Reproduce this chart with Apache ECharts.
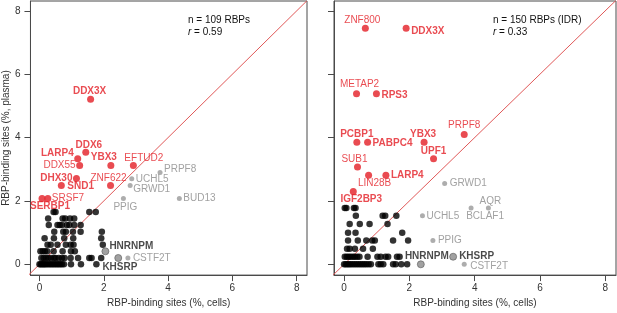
<!DOCTYPE html>
<html>
<head>
<meta charset="utf-8">
<script src="https://cdn.jsdelivr.net/npm/echarts@6/dist/echarts.min.js"></script>
<style>
  html, body { margin: 0; padding: 0; background: #fff; }
  #chart { width: 617px; height: 313px; }
</style>
</head>
<body>
<div id="chart"></div>
<script>
// 坐标轴刻度 / 标题
const tickValues = [0, 2, 4, 6, 8]
const xAxisTitle = 'RBP-binding sites (%, cells)'
const yAxisTitle = 'RBP-binding sites (%, plasma)'
const panelCounts = [109, 150]
const panelCountNote = ['', ' (IDR)']
const panelR = [0.59, 0.33]

// 左图 [name, cells, plasma]
const leftRed = [
  ['DDX3X', 1.59, 5.21], ['DDX6', 1.44, 3.54], ['LARP4', 1.19, 3.33],
  ['YBX3', 2.22, 3.12], ['DDX55', 1.25, 3.12], ['EFTUD2', 2.92, 3.12],
  ['DHX30', 1.15, 2.71], ['SND1', 0.68, 2.49], ['ZNF622', 2.21, 2.49],
  ['SRSF7', 0.26, 2.08], ['SERBP1', 0.08, 2.08]
]
const leftGray = [
  ['PRPF8', 3.75, 2.9], ['UCHL5', 2.87, 2.7], ['GRWD1', 2.82, 2.49],
  ['BUD13', 4.35, 2.08], ['PPIG', 2.61, 2.08], ['CSTF2T', 2.75, 0.2]
]
const leftDarkGray = [['HNRNPM', 2.05, 0.41], ['', 2.45, 0.2]]
const leftBlackNamed = [['KHSRP', 1.77, 0]]
const leftBlackRows = [
  [1.65, [0.44, 0.5, 1.55, 1.75]],
  [1.45, [0.27, 0.72, 0.8, 0.95, 1.08]],
  [1.24, [0.29, 0.56, 0.63, 0.7, 0.85, 0.93, 1.08, 1.28]],
  [1.03, [0.46, 0.74, 0.82, 1.04, 1.28, 1.94]],
  [0.82, [0.16, 0.45, 0.77, 1.05, 1.92]],
  [0.62, [0.25, 0.35, 0.56, 0.82, 0.97, 1.06, 1.97]],
  [0.41, [0.03, 0.1, 0.17, 0.24, 0.44, 0.72, 0.98, 1.1]],
  [0.2, [0.06, 0.13, 0.2, 0.27, 0.35, 0.45, 0.5, 0.6, 0.7, 0.78, 0.97, 1.2, 1.55, 1.62, 1.92]],
  [0, [0, 0.04, 0.08, 0.12, 0.16, 0.2, 0.25, 0.3, 0.35, 0.4, 0.45, 0.5, 0.55, 0.6, 0.65, 0.7, 0.76, 0.98, 1.29]]
]

// 右图 (IDR)
const rightRed = [
  ['ZNF800', 0.65, 7.45], ['DDX3X', 1.9, 7.45], ['METAP2', 0.38, 5.38],
  ['RPS3', 0.99, 5.38], ['PRPF8', 3.68, 4.1], ['PCBP1', 0.39, 3.85],
  ['PABPC4', 0.72, 3.85], ['YBX3', 2.45, 3.85], ['UPF1', 2.74, 3.33],
  ['SUB1', 0.41, 3.07], ['LIN28B', 0.75, 2.81], ['LARP4', 1.28, 2.81],
  ['IGF2BP3', 0.28, 2.3]
]
const rightGray = [
  ['GRWD1', 3.08, 2.55], ['AQR', 4.42, 1.78], ['BCLAF1', 3.89, 1.78],
  ['UCHL5', 2.4, 1.53], ['PPIG', 2.72, 0.75], ['CSTF2T', 3.68, 0]
]
const rightDarkGray = [['HNRNPM', 2.35, 0], ['KHSRP', 3.34, 0.24]]
const rightBlackNamed = []
const rightBlackRows = [
  [1.78, [0.02, 0.07, 0.3, 0.35]],
  [1.53, [0.36, 1.18, 1.26, 1.6]],
  [1.27, [0.17, 0.48, 0.78, 1.33]],
  [1.0, [0.12, 0.35, 1.78]],
  [0.75, [0.12, 0.42, 0.68, 0.86, 0.94, 1.5, 1.96]],
  [0.49, [0.09, 0.17, 0.33, 0.58, 0.88]],
  [0.24, [0.02, 0.08, 0.14, 0.2, 0.27, 0.33, 0.4, 0.47, 0.72, 1.02, 1.12, 1.27, 1.35, 1.62, 1.7]],
  [0, [0, 0.05, 0.1, 0.15, 0.2, 0.26, 0.32, 0.38, 0.44, 0.5, 0.56, 0.62, 0.68, 0.75, 0.82, 1.05, 1.12, 1.2, 1.5, 1.58, 1.75, 1.93]]
]

// 标签摆放 [align, dx, dy]（相对点中心，像素）
const labelSpots = {
  left: {
    DDX3X: ['center', -1, -8], DDX6: ['center', 3, -7], LARP4: ['right', -4, -6],
    YBX3: ['center', -7, -8], DDX55: ['right', -4, 0], EFTUD2: ['left', -9, -7],
    DHX30: ['right', -4, 0], SND1: ['left', 6, 1], ZNF622: ['center', -2, -7],
    SRSF7: ['left', 4, 0], SERBP1: ['center', 8, 8],
    PRPF8: ['left', 4, -3], UCHL5: ['left', 4, 0], GRWD1: ['left', 3, 4],
    BUD13: ['left', 4, 0], PPIG: ['center', 2, 9], CSTF2T: ['left', 5, 0],
    HNRNPM: ['left', 4, -5], KHSRP: ['left', 6, 3]
  },
  right: {
    ZNF800: ['center', -3, -8], DDX3X: ['left', 5, 3], METAP2: ['center', 3, -10],
    RPS3: ['left', 5, 1], PRPF8: ['center', 0, -9], PCBP1: ['center', 0, -8],
    PABPC4: ['left', 5, 1], YBX3: ['center', -1, -8], UPF1: ['center', 0, -8],
    SUB1: ['center', -3, -8], LIN28B: ['center', 6, 8], LARP4: ['left', 5, 0],
    IGF2BP3: ['center', 8, 8], GRWD1: ['left', 5, 0], AQR: ['center', 2, -7],
    BCLAF1: ['center', 14, 8], UCHL5: ['left', 4, 0], PPIG: ['left', 5, 0],
    HNRNPM: ['center', 6, -8], KHSRP: ['left', 6, 0], CSTF2T: ['left', 6, 2]
  }
}
const boldNames = {
  left: ['DDX3X', 'DDX6', 'LARP4', 'YBX3', 'DHX30', 'SND1', 'SERBP1', 'HNRNPM', 'KHSRP'],
  right: ['DDX3X', 'RPS3', 'PCBP1', 'PABPC4', 'YBX3', 'UPF1', 'LARP4', 'IGF2BP3', 'HNRNPM', 'KHSRP']
}

const RED = '#e41e26'
const GRAY_TXT = '#8a8a8a'
const FONT = '"Liberation Sans", Arial, sans-serif'

const grids = [
  { left: 26, top: 1, width: 281, height: 281, xMin: -0.28, xMax: 8.32 },
  { left: 334, top: 1, width: 282, height: 281, xMin: -0.31, xMax: 8.33 }
]
const Y_MIN = -0.34
const Y_MAX = 8.31

function points(list, side, txtColor) {
  return list.map(([name, x, y]) => {
    const spot = labelSpots[side][name]
    const item = { name, value: [x, y] }
    if (spot) {
      item.label = {
        show: true,
        position: 'inside',
        align: spot[0],
        verticalAlign: 'middle',
        offset: [spot[1], spot[2]],
        formatter: name,
        color: txtColor,
        fontFamily: FONT,
        fontSize: 10,
        fontWeight: boldNames[side].includes(name) ? 'bold' : 'normal'
      }
    }
    return item
  })
}

function rowsToPoints(rows) {
  return rows.flatMap(([y, xs]) => xs.map(x => [x, y]))
}

function panelSeries(i, side, rows, blackNamed, gray, darkGray, red) {
  const g = grids[i]
  const lo = Math.min(g.xMin, Y_MIN)
  const hi = Math.max(g.xMax, Y_MAX)
  return [
    {
      type: 'line', xAxisIndex: i, yAxisIndex: i, z: 1,
      symbol: 'none', silent: true,
      lineStyle: { color: '#e05858', width: 1 },
      data: [[lo, lo], [hi, hi]]
    },
    {
      type: 'scatter', xAxisIndex: i, yAxisIndex: i, z: 2,
      symbolSize: 6.5, itemStyle: { color: '#000' },
      data: rowsToPoints(rows)
    },
    {
      type: 'scatter', xAxisIndex: i, yAxisIndex: i, z: 3,
      symbolSize: 6.5, itemStyle: { color: '#000' },
      data: points(blackNamed, side, '#1a1a1a')
    },
    {
      type: 'scatter', xAxisIndex: i, yAxisIndex: i, z: 3,
      symbolSize: 5, itemStyle: { color: '#999' },
      data: points(gray, side, GRAY_TXT)
    },
    {
      type: 'scatter', xAxisIndex: i, yAxisIndex: i, z: 3,
      symbolSize: 7, itemStyle: { color: '#8a8a8a', borderColor: '#5c5c5c', borderWidth: 0.8 },
      data: points(darkGray, side, '#1a1a1a')
    },
    {
      type: 'scatter', xAxisIndex: i, yAxisIndex: i, z: 4,
      symbolSize: 7, itemStyle: { color: RED },
      data: points(red, side, RED)
    }
  ]
}

const axisCommon = {
  type: 'value',
  splitLine: { show: false },
  axisLine: { onZero: false, lineStyle: { color: '#4a4a4a', width: 1 } },
  axisTick: { length: 6, lineStyle: { color: '#4a4a4a' }, customValues: tickValues },
  axisLabel: { customValues: tickValues, color: '#333', fontSize: 10, fontFamily: FONT }
}

const option = {
  animation: false,
  backgroundColor: '#fff',
  grid: grids.map(g => ({
    left: g.left, top: g.top, width: g.width, height: g.height,
    show: true, borderColor: '#4a4a4a', borderWidth: 1, containLabel: false
  })),
  xAxis: grids.map((g, i) => ({
    ...axisCommon,
    gridIndex: i,
    min: g.xMin, max: g.xMax,
    axisLabel: { ...axisCommon.axisLabel, margin: 8 },
    name: xAxisTitle,
    nameLocation: 'middle',
    nameGap: 16,
    nameTextStyle: { color: '#333', fontSize: 10, fontFamily: FONT }
  })),
  yAxis: grids.map((g, i) => ({
    ...axisCommon,
    gridIndex: i,
    min: Y_MIN, max: Y_MAX,
    axisLabel: { ...axisCommon.axisLabel, margin: 10, show: i === 0 },
    name: i === 0 ? yAxisTitle : '',
    nameLocation: 'middle',
    nameGap: 14,
    nameTextStyle: { color: '#333', fontSize: 10, fontFamily: FONT }
  })),
  graphic: grids.flatMap((g, i) => [
    {
      type: 'text', left: [188, 493][i], top: 15,
      style: { text: 'n = ' + panelCounts[i] + ' RBPs' + panelCountNote[i], fill: '#111', font: '10px ' + FONT }
    },
    {
      type: 'text', left: [188, 493][i], top: 27,
      style: {
        text: '{i|r} = ' + panelR[i].toFixed(2), fill: '#111', font: '10px ' + FONT,
        rich: { i: { fontStyle: 'italic', fontSize: 10, fontFamily: FONT, fill: '#111' } }
      }
    }
  ]),
  series: [
    ...panelSeries(0, 'left', leftBlackRows, leftBlackNamed, leftGray, leftDarkGray, leftRed),
    ...panelSeries(1, 'right', rightBlackRows, rightBlackNamed, rightGray, rightDarkGray, rightRed)
  ]
}

const chart = echarts.init(document.getElementById('chart'))
chart.setOption(option)
</script>
</body>
</html>
